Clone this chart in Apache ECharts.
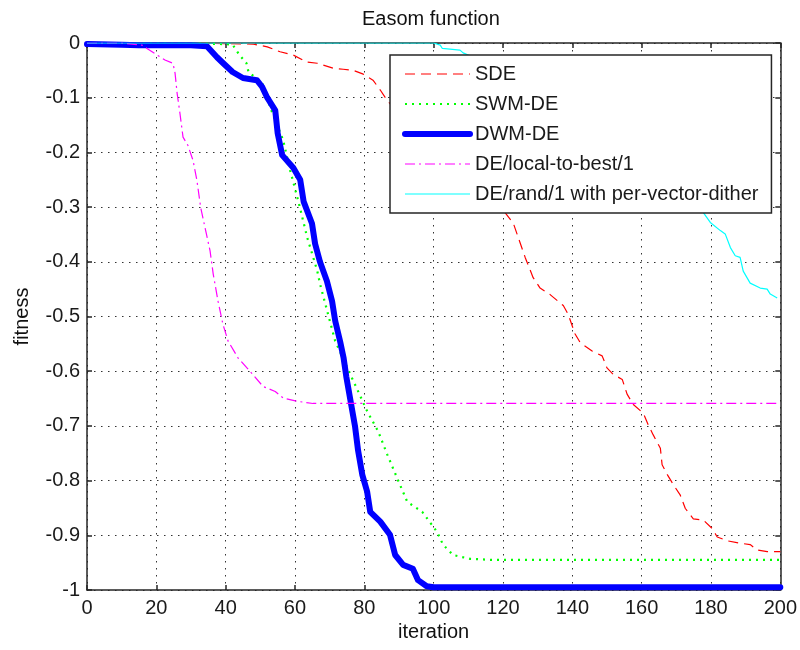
<!DOCTYPE html>
<html>
<head>
<meta charset="utf-8">
<script src="https://cdn.jsdelivr.net/npm/echarts@6/dist/echarts.min.js"></script>
<style>html,body{margin:0;padding:0;background:#fff;}#c{width:800px;height:650px;}</style>
</head>
<body>
<div id="c"></div>
<script>
// ---- data ----
const sdeX = [0,30,40,48,52,55.7,59.5,63.5,66.4,71,73.9,76.8,79.7,82.5,84.6,86.6,90,95,100,105,110,115,118,120.6,123,126.4,128.7,130.7,133.6,137.4,138.8,140.8,142.3,145.7,148.6,150,151.8,154.4,155.8,157.6,160.5,161.9,163.3,165.4,165.9,167.4,169.1,171.1,172.6,174.9,177.8,180.4,181.8,184.7,187.9,191.3,193.4,196.2,200];
const sdeY = [0,0,-0.001,-0.002,-0.007,-0.016,-0.022,-0.035,-0.037,-0.046,-0.048,-0.05,-0.057,-0.068,-0.086,-0.105,-0.13,-0.155,-0.18,-0.205,-0.235,-0.265,-0.29,-0.31,-0.33,-0.392,-0.429,-0.448,-0.46,-0.48,-0.496,-0.532,-0.548,-0.563,-0.572,-0.594,-0.606,-0.615,-0.642,-0.661,-0.677,-0.698,-0.716,-0.741,-0.771,-0.789,-0.807,-0.826,-0.851,-0.87,-0.872,-0.888,-0.903,-0.91,-0.914,-0.917,-0.927,-0.93,-0.93];

const swmX = [0,20,30,40,42,44,46,46.6,50.6,52.8,56.6,58.6,61,63.5,66.4,67.2,71.6,75.9,78.8,80.8,84,86.6,89.5,92.4,96.7,101,102.7,105.6,110.5,117,200];
const swmY = [0,0,-0.001,-0.002,-0.003,-0.022,-0.037,-0.053,-0.074,-0.117,-0.178,-0.233,-0.29,-0.355,-0.416,-0.44,-0.545,-0.605,-0.645,-0.673,-0.71,-0.752,-0.796,-0.839,-0.857,-0.894,-0.917,-0.936,-0.943,-0.945,-0.945];

const dwmX = [0,10,15,20,30,34.6,37.5,39.3,42,45,49,50.5,52,54.3,55,56.3,59.5,61.5,62.5,64.9,65.8,67.2,69.2,70.7,71.6,73,74,74.8,75.9,77.3,78.2,79.4,80.8,81.7,84.6,87.4,88.9,91.2,94,95.5,98,100,200];
const dwmY = [-0.002,-0.003,-0.004,-0.004,-0.004,-0.006,-0.026,-0.037,-0.053,-0.064,-0.068,-0.08,-0.1,-0.123,-0.165,-0.205,-0.228,-0.25,-0.29,-0.33,-0.367,-0.4,-0.435,-0.472,-0.508,-0.545,-0.575,-0.61,-0.65,-0.7,-0.745,-0.789,-0.82,-0.857,-0.875,-0.899,-0.936,-0.954,-0.961,-0.982,-0.993,-0.995,-0.995];

const ltbX = [0,10,15.9,17.3,20.2,22.5,24.8,25.4,26,26.8,27.7,29.1,30.6,31.7,32.8,34.3,35.5,36.4,37.8,39.2,40.7,43.6,47,50.8,54.3,56.6,60.6,65.2,200];
const ltbY = [0,0,-0.004,-0.01,-0.022,-0.031,-0.037,-0.055,-0.092,-0.128,-0.172,-0.187,-0.215,-0.251,-0.301,-0.345,-0.38,-0.422,-0.472,-0.514,-0.545,-0.576,-0.6,-0.628,-0.637,-0.649,-0.655,-0.659,-0.659];

const randX = [0,50,100,101.9,102.5,107.6,108.5,120,130,140,150,160,168,174,177.8,179.8,182.7,184.1,185.6,187,188.4,189.3,191.3,194.2,196.2,197.1,199.1];
const randY = [0,0,0,-0.004,-0.01,-0.013,-0.018,-0.05,-0.08,-0.11,-0.15,-0.19,-0.23,-0.28,-0.31,-0.328,-0.343,-0.349,-0.374,-0.389,-0.392,-0.417,-0.439,-0.448,-0.45,-0.459,-0.466];

const seriesNames = ['SDE','SWM-DE','DWM-DE','DE/local-to-best/1','DE/rand/1 with per-vector-dither'];

// ---- chart ----
function zip(xs, ys){ return xs.map((x,i)=>[x, ys[i]]); }
const FONT = 'Liberation Sans, Arial, sans-serif';
const chart = echarts.init(document.getElementById('c'), null, {renderer:'canvas'});
const boxAxis = {
  axisTick:{show:true, inside:true, length:5, lineStyle:{color:'#262626', width:1.5}},
  axisLabel:{show:false}, splitLine:{show:false}
};
chart.setOption({
  animation:false,
  backgroundColor:'#fff',
  title:{text:'Easom function', left:362, top:9, padding:0,
    textStyle:{fontFamily:FONT, fontSize:20, fontWeight:'normal', color:'#111'}},
  grid:{left:87, right:19, top:43, bottom:60, containLabel:false},
  legend:{
    data:seriesNames, orient:'vertical', left:390, top:55, z:10,
    padding:[9,13,9,12], itemWidth:65, itemHeight:20, itemGap:10,
    backgroundColor:'#fff', borderColor:'#262626', borderWidth:1.5, borderRadius:0,
    itemStyle:{opacity:0},
    lineStyle:{width:'inherit'},
    textStyle:{fontFamily:FONT, fontSize:20, color:'#1a1a1a'}
  },
  xAxis:[{
    type:'value', min:0, max:200, interval:20, position:'bottom',
    name:'iteration', nameLocation:'middle', nameGap:31,
    nameTextStyle:{fontFamily:FONT, fontSize:20, color:'#111'},
    axisLine:{show:true, onZero:false, lineStyle:{color:'#262626', width:1.5}},
    axisTick:{show:true, inside:true, length:5, lineStyle:{color:'#262626', width:1.5}},
    axisLabel:{fontFamily:FONT, fontSize:20, color:'#1a1a1a', margin:8},
    splitLine:{show:true, lineStyle:{color:'#333', width:1, type:[1.5,5.5]}}
  },{
    type:'value', min:0, max:200, interval:20, position:'top', ...boxAxis,
    axisLine:{show:true, onZero:false, lineStyle:{color:'#262626', width:1.5}}
  }],
  yAxis:[{
    type:'value', min:-1, max:0, interval:0.1, position:'left',
    name:'fitness', nameLocation:'middle', nameGap:55, nameRotate:90,
    nameTextStyle:{fontFamily:FONT, fontSize:20, color:'#111'},
    axisLine:{show:true, onZero:false, lineStyle:{color:'#262626', width:1.5}},
    axisTick:{show:true, inside:true, length:5, lineStyle:{color:'#262626', width:1.5}},
    axisLabel:{fontFamily:FONT, fontSize:20, color:'#1a1a1a', margin:7},
    splitLine:{show:true, lineStyle:{color:'#333', width:1, type:[1.5,5.5]}}
  },{
    type:'value', min:-1, max:0, interval:0.1, position:'right', ...boxAxis,
    axisLine:{show:true, onZero:false, lineStyle:{color:'#262626', width:1.5}}
  }],
  series:[
    {name:seriesNames[0], type:'line', data:zip(sdeX,sdeY), symbol:'none', z:2,
     itemStyle:{color:'#ff0000'}, lineStyle:{color:'#ff0000', width:1.2, type:[10,6]}},
    {name:seriesNames[1], type:'line', data:zip(swmX,swmY), symbol:'none', z:3,
     itemStyle:{color:'#00ff00'}, lineStyle:{color:'#00ff00', width:2.2, type:[2,5], cap:'butt'}},
    {name:seriesNames[2], type:'line', data:zip(dwmX,dwmY), symbol:'none', z:4,
     itemStyle:{color:'#0000ff'}, lineStyle:{color:'#0000ff', width:6, type:'solid', join:'round', cap:'round'}},
    {name:seriesNames[3], type:'line', data:zip(ltbX,ltbY), symbol:'none', z:5,
     itemStyle:{color:'#ff00ff'}, lineStyle:{color:'#ff00ff', width:1.2, type:[10,4,2,4]}},
    {name:seriesNames[4], type:'line', data:zip(randX,randY), symbol:'none', z:6,
     itemStyle:{color:'#00ffff'}, lineStyle:{color:'#00ffff', width:1.2, type:'solid'}}
  ]
});
</script>
</body>
</html>
